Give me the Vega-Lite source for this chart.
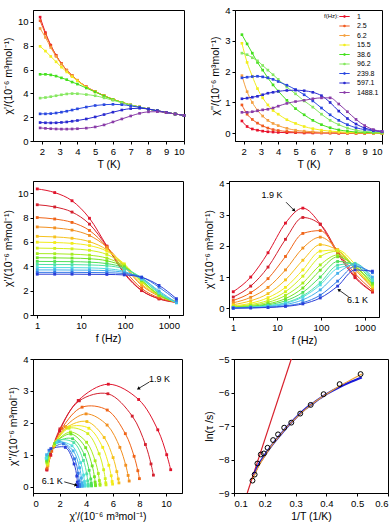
{
"$schema": "https://vega.github.io/schema/vega-lite/v6.json",
"background": "white",
"padding": {"left": 2, "top": 4, "right": 2, "bottom": 2},
"config": {
 "font": "Liberation Sans",
 "view": {"stroke": "black", "strokeWidth": 1},
 "axis": {"grid": false, "labelOverlap": false, "domainColor": "black", "tickColor": "black", "labelColor": "black", "titleColor": "black", "labelFontSize": 9.5, "titleFontSize": 10.5, "titleFontWeight": "normal", "tickSize": 3, "labelPadding": 2, "titlePadding": 4, "labelFont": "Liberation Sans", "titleFont": "Liberation Sans"}
},
"datasets": {
 "acT": [
{"f":"1","T":1.9,"c1":10.4,"c2":0.4},{"f":"1","T":2.2,"c1":9.1,"c2":0.22},{"f":"1","T":2.5,"c1":8.05,"c2":0.14},{"f":"1","T":2.8,"c1":7.2,"c2":0.1},{"f":"1","T":3.1,"c1":6.5,"c2":0.07},{"f":"1","T":3.4,"c1":5.95,"c2":0.05},{"f":"1","T":3.7,"c1":5.5,"c2":0.04},{"f":"1","T":4,"c1":5.1,"c2":0.03},{"f":"1","T":4.5,"c1":4.55,"c2":0.02},{"f":"1","T":5,"c1":4.15,"c2":0.02},{"f":"1","T":5.5,"c1":3.8,"c2":0.01},{"f":"1","T":6,"c1":3.5,"c2":0.01},{"f":"1","T":6.5,"c1":3.25,"c2":0.01},{"f":"1","T":7,"c1":3.02,"c2":0.01},{"f":"1","T":7.5,"c1":2.85,"c2":0},{"f":"1","T":8,"c1":2.68,"c2":0},{"f":"1","T":8.5,"c1":2.53,"c2":0},{"f":"1","T":9,"c1":2.4,"c2":0},{"f":"1","T":9.5,"c1":2.27,"c2":0},{"f":"1","T":10,"c1":2.15,"c2":0},
{"f":"2.5","T":1.9,"c1":10.1,"c2":0.92},{"f":"2.5","T":2.2,"c1":9.0,"c2":0.62},{"f":"2.5","T":2.5,"c1":8.0,"c2":0.45},{"f":"2.5","T":2.8,"c1":7.18,"c2":0.33},{"f":"2.5","T":3.1,"c1":6.5,"c2":0.24},{"f":"2.5","T":3.4,"c1":5.95,"c2":0.17},{"f":"2.5","T":3.7,"c1":5.5,"c2":0.12},{"f":"2.5","T":4,"c1":5.1,"c2":0.09},{"f":"2.5","T":4.5,"c1":4.55,"c2":0.06},{"f":"2.5","T":5,"c1":4.15,"c2":0.04},{"f":"2.5","T":5.5,"c1":3.8,"c2":0.03},{"f":"2.5","T":6,"c1":3.5,"c2":0.02},{"f":"2.5","T":6.5,"c1":3.25,"c2":0.02},{"f":"2.5","T":7,"c1":3.02,"c2":0.01},{"f":"2.5","T":7.5,"c1":2.85,"c2":0.01},{"f":"2.5","T":8,"c1":2.68,"c2":0.01},{"f":"2.5","T":8.5,"c1":2.53,"c2":0},{"f":"2.5","T":9,"c1":2.4,"c2":0},{"f":"2.5","T":9.5,"c1":2.27,"c2":0},{"f":"2.5","T":10,"c1":2.15,"c2":0},
{"f":"6.2","T":1.9,"c1":9.45,"c2":1.87},{"f":"6.2","T":2.2,"c1":8.7,"c2":1.35},{"f":"6.2","T":2.5,"c1":7.85,"c2":1.0},{"f":"6.2","T":2.8,"c1":7.1,"c2":0.75},{"f":"6.2","T":3.1,"c1":6.45,"c2":0.56},{"f":"6.2","T":3.4,"c1":5.92,"c2":0.42},{"f":"6.2","T":3.7,"c1":5.48,"c2":0.32},{"f":"6.2","T":4,"c1":5.08,"c2":0.25},{"f":"6.2","T":4.5,"c1":4.54,"c2":0.16},{"f":"6.2","T":5,"c1":4.14,"c2":0.1},{"f":"6.2","T":5.5,"c1":3.8,"c2":0.07},{"f":"6.2","T":6,"c1":3.5,"c2":0.05},{"f":"6.2","T":6.5,"c1":3.25,"c2":0.03},{"f":"6.2","T":7,"c1":3.02,"c2":0.02},{"f":"6.2","T":7.5,"c1":2.85,"c2":0.02},{"f":"6.2","T":8,"c1":2.68,"c2":0.01},{"f":"6.2","T":8.5,"c1":2.53,"c2":0.01},{"f":"6.2","T":9,"c1":2.4,"c2":0.01},{"f":"6.2","T":9.5,"c1":2.27,"c2":0},{"f":"6.2","T":10,"c1":2.15,"c2":0},
{"f":"15.5","T":1.9,"c1":7.95,"c2":2.92},{"f":"15.5","T":2.2,"c1":7.55,"c2":2.3},{"f":"15.5","T":2.5,"c1":7.1,"c2":1.85},{"f":"15.5","T":2.8,"c1":6.65,"c2":1.45},{"f":"15.5","T":3.1,"c1":6.2,"c2":1.15},{"f":"15.5","T":3.4,"c1":5.8,"c2":0.92},{"f":"15.5","T":3.7,"c1":5.4,"c2":0.74},{"f":"15.5","T":4,"c1":5.05,"c2":0.62},{"f":"15.5","T":4.5,"c1":4.5,"c2":0.44},{"f":"15.5","T":5,"c1":4.12,"c2":0.32},{"f":"15.5","T":5.5,"c1":3.78,"c2":0.22},{"f":"15.5","T":6,"c1":3.49,"c2":0.15},{"f":"15.5","T":6.5,"c1":3.24,"c2":0.1},{"f":"15.5","T":7,"c1":3.02,"c2":0.07},{"f":"15.5","T":7.5,"c1":2.85,"c2":0.05},{"f":"15.5","T":8,"c1":2.68,"c2":0.03},{"f":"15.5","T":8.5,"c1":2.53,"c2":0.02},{"f":"15.5","T":9,"c1":2.4,"c2":0.02},{"f":"15.5","T":9.5,"c1":2.27,"c2":0.01},{"f":"15.5","T":10,"c1":2.15,"c2":0.01},
{"f":"38.6","T":1.9,"c1":5.6,"c2":3.2},{"f":"38.6","T":2.2,"c1":5.6,"c2":2.9},{"f":"38.6","T":2.5,"c1":5.55,"c2":2.6},{"f":"38.6","T":2.8,"c1":5.45,"c2":2.3},{"f":"38.6","T":3.1,"c1":5.3,"c2":2.05},{"f":"38.6","T":3.4,"c1":5.15,"c2":1.8},{"f":"38.6","T":3.7,"c1":4.95,"c2":1.57},{"f":"38.6","T":4,"c1":4.78,"c2":1.37},{"f":"38.6","T":4.5,"c1":4.45,"c2":1.07},{"f":"38.6","T":5,"c1":4.12,"c2":0.8},{"f":"38.6","T":5.5,"c1":3.78,"c2":0.6},{"f":"38.6","T":6,"c1":3.48,"c2":0.42},{"f":"38.6","T":6.5,"c1":3.24,"c2":0.28},{"f":"38.6","T":7,"c1":3.01,"c2":0.18},{"f":"38.6","T":7.5,"c1":2.84,"c2":0.11},{"f":"38.6","T":8,"c1":2.68,"c2":0.07},{"f":"38.6","T":8.5,"c1":2.53,"c2":0.04},{"f":"38.6","T":9,"c1":2.4,"c2":0.03},{"f":"38.6","T":9.5,"c1":2.27,"c2":0.02},{"f":"38.6","T":10,"c1":2.15,"c2":0.01},
{"f":"96.2","T":1.9,"c1":3.6,"c2":2.6},{"f":"96.2","T":2.2,"c1":3.65,"c2":2.55},{"f":"96.2","T":2.5,"c1":3.72,"c2":2.45},{"f":"96.2","T":2.8,"c1":3.8,"c2":2.35},{"f":"96.2","T":3.1,"c1":3.88,"c2":2.2},{"f":"96.2","T":3.4,"c1":3.95,"c2":2.05},{"f":"96.2","T":3.7,"c1":3.98,"c2":1.9},{"f":"96.2","T":4,"c1":3.97,"c2":1.75},{"f":"96.2","T":4.5,"c1":3.9,"c2":1.5},{"f":"96.2","T":5,"c1":3.8,"c2":1.28},{"f":"96.2","T":5.5,"c1":3.62,"c2":1.05},{"f":"96.2","T":6,"c1":3.42,"c2":0.85},{"f":"96.2","T":6.5,"c1":3.22,"c2":0.62},{"f":"96.2","T":7,"c1":3.02,"c2":0.42},{"f":"96.2","T":7.5,"c1":2.85,"c2":0.28},{"f":"96.2","T":8,"c1":2.68,"c2":0.17},{"f":"96.2","T":8.5,"c1":2.53,"c2":0.1},{"f":"96.2","T":9,"c1":2.4,"c2":0.06},{"f":"96.2","T":9.5,"c1":2.27,"c2":0.04},{"f":"96.2","T":10,"c1":2.15,"c2":0.03},
{"f":"239.8","T":1.9,"c1":2.28,"c2":1.8},{"f":"239.8","T":2.2,"c1":2.28,"c2":1.82},{"f":"239.8","T":2.5,"c1":2.3,"c2":1.84},{"f":"239.8","T":2.8,"c1":2.35,"c2":1.85},{"f":"239.8","T":3.1,"c1":2.42,"c2":1.83},{"f":"239.8","T":3.4,"c1":2.5,"c2":1.8},{"f":"239.8","T":3.7,"c1":2.6,"c2":1.75},{"f":"239.8","T":4,"c1":2.7,"c2":1.68},{"f":"239.8","T":4.5,"c1":2.85,"c2":1.56},{"f":"239.8","T":5,"c1":2.98,"c2":1.42},{"f":"239.8","T":5.5,"c1":3.05,"c2":1.25},{"f":"239.8","T":6,"c1":3.08,"c2":1.05},{"f":"239.8","T":6.5,"c1":3.05,"c2":0.82},{"f":"239.8","T":7,"c1":2.95,"c2":0.6},{"f":"239.8","T":7.5,"c1":2.83,"c2":0.42},{"f":"239.8","T":8,"c1":2.68,"c2":0.28},{"f":"239.8","T":8.5,"c1":2.53,"c2":0.18},{"f":"239.8","T":9,"c1":2.4,"c2":0.12},{"f":"239.8","T":9.5,"c1":2.27,"c2":0.08},{"f":"239.8","T":10,"c1":2.15,"c2":0.05},
{"f":"597.1","T":1.9,"c1":1.55,"c2":1.12},{"f":"597.1","T":2.2,"c1":1.53,"c2":1.14},{"f":"597.1","T":2.5,"c1":1.52,"c2":1.17},{"f":"597.1","T":2.8,"c1":1.53,"c2":1.2},{"f":"597.1","T":3.1,"c1":1.56,"c2":1.25},{"f":"597.1","T":3.4,"c1":1.6,"c2":1.3},{"f":"597.1","T":3.7,"c1":1.66,"c2":1.33},{"f":"597.1","T":4,"c1":1.72,"c2":1.36},{"f":"597.1","T":4.5,"c1":1.85,"c2":1.39},{"f":"597.1","T":5,"c1":2.02,"c2":1.4},{"f":"597.1","T":5.5,"c1":2.22,"c2":1.38},{"f":"597.1","T":6,"c1":2.42,"c2":1.33},{"f":"597.1","T":6.5,"c1":2.6,"c2":1.22},{"f":"597.1","T":7,"c1":2.72,"c2":1.0},{"f":"597.1","T":7.5,"c1":2.75,"c2":0.72},{"f":"597.1","T":8,"c1":2.68,"c2":0.48},{"f":"597.1","T":8.5,"c1":2.55,"c2":0.3},{"f":"597.1","T":9,"c1":2.4,"c2":0.17},{"f":"597.1","T":9.5,"c1":2.27,"c2":0.1},{"f":"597.1","T":10,"c1":2.15,"c2":0.06},
{"f":"1488.1","T":1.9,"c1":1.1,"c2":0.68},{"f":"1488.1","T":2.2,"c1":1.06,"c2":0.68},{"f":"1488.1","T":2.5,"c1":1.03,"c2":0.7},{"f":"1488.1","T":2.8,"c1":1.01,"c2":0.73},{"f":"1488.1","T":3.1,"c1":1.0,"c2":0.76},{"f":"1488.1","T":3.4,"c1":1.0,"c2":0.78},{"f":"1488.1","T":3.7,"c1":1.01,"c2":0.82},{"f":"1488.1","T":4,"c1":1.03,"c2":0.88},{"f":"1488.1","T":4.5,"c1":1.08,"c2":0.97},{"f":"1488.1","T":5,"c1":1.18,"c2":1.03},{"f":"1488.1","T":5.5,"c1":1.35,"c2":1.07},{"f":"1488.1","T":6,"c1":1.6,"c2":1.12},{"f":"1488.1","T":6.5,"c1":1.85,"c2":1.15},{"f":"1488.1","T":7,"c1":2.1,"c2":1.15},{"f":"1488.1","T":7.5,"c1":2.32,"c2":0.95},{"f":"1488.1","T":8,"c1":2.45,"c2":0.7},{"f":"1488.1","T":8.5,"c1":2.46,"c2":0.45},{"f":"1488.1","T":9,"c1":2.38,"c2":0.25},{"f":"1488.1","T":9.5,"c1":2.27,"c2":0.12},{"f":"1488.1","T":10,"c1":2.15,"c2":0.06}
 ],
 "acf": [
{"T":1.9,"f":1,"c1":10.35,"c2":0.53},{"T":1.9,"f":2.5,"c1":10.05,"c2":1.0},{"T":1.9,"f":6.2,"c1":9.38,"c2":1.78},{"T":1.9,"f":15.5,"c1":7.94,"c2":2.73},{"T":1.9,"f":38.6,"c1":5.66,"c2":3.21},{"T":1.9,"f":96.2,"c1":3.4,"c2":2.7},{"T":1.9,"f":239.8,"c1":2.0,"c2":1.75},{"T":1.9,"f":597.1,"c1":1.34,"c2":0.98},{"T":1.9,"f":1488.1,"c1":1.05,"c2":0.52},
{"T":2.2,"f":1,"c1":9.05,"c2":0.36},{"T":2.2,"f":2.5,"c1":8.87,"c2":0.71},{"T":2.2,"f":6.2,"c1":8.45,"c2":1.32},{"T":2.2,"f":15.5,"c1":7.46,"c2":2.21},{"T":2.2,"f":38.6,"c1":5.63,"c2":2.91},{"T":2.2,"f":96.2,"c1":3.48,"c2":2.69},{"T":2.2,"f":239.8,"c1":2.02,"c2":1.81},{"T":2.2,"f":597.1,"c1":1.32,"c2":1.02},{"T":2.2,"f":1488.1,"c1":1.03,"c2":0.53},
{"T":2.5,"f":1,"c1":8.0,"c2":0.25},{"T":2.5,"f":2.5,"c1":7.88,"c2":0.5},{"T":2.5,"f":6.2,"c1":7.6,"c2":0.95},{"T":2.5,"f":15.5,"c1":6.94,"c2":1.66},{"T":2.5,"f":38.6,"c1":5.58,"c2":2.4},{"T":2.5,"f":96.2,"c1":3.69,"c2":2.49},{"T":2.5,"f":239.8,"c1":2.18,"c2":1.83},{"T":2.5,"f":597.1,"c1":1.41,"c2":1.11},{"T":2.5,"f":1488.1,"c1":1.06,"c2":0.58},
{"T":2.8,"f":1,"c1":7.23,"c2":0.175},{"T":2.8,"f":2.5,"c1":7.15,"c2":0.35},{"T":2.8,"f":6.2,"c1":6.97,"c2":0.67},{"T":2.8,"f":15.5,"c1":6.53,"c2":1.23},{"T":2.8,"f":38.6,"c1":5.57,"c2":1.93},{"T":2.8,"f":96.2,"c1":3.99,"c2":2.28},{"T":2.8,"f":239.8,"c1":2.43,"c2":1.88},{"T":2.8,"f":597.1,"c1":1.55,"c2":1.24},{"T":2.8,"f":1488.1,"c1":1.11,"c2":0.65},
{"T":3.1,"f":1,"c1":6.46,"c2":0.116},{"T":3.1,"f":2.5,"c1":6.41,"c2":0.24},{"T":3.1,"f":6.2,"c1":6.3,"c2":0.47},{"T":3.1,"f":15.5,"c1":6.02,"c2":0.91},{"T":3.1,"f":38.6,"c1":5.35,"c2":1.54},{"T":3.1,"f":96.2,"c1":4.05,"c2":2.04},{"T":3.1,"f":239.8,"c1":2.53,"c2":1.85},{"T":3.1,"f":597.1,"c1":1.6,"c2":1.29},{"T":3.1,"f":1488.1,"c1":1.11,"c2":0.67},
{"T":3.4,"f":1,"c1":5.98,"c2":0.078},{"T":3.4,"f":2.5,"c1":5.95,"c2":0.16},{"T":3.4,"f":6.2,"c1":5.88,"c2":0.34},{"T":3.4,"f":15.5,"c1":5.7,"c2":0.67},{"T":3.4,"f":38.6,"c1":5.24,"c2":1.23},{"T":3.4,"f":96.2,"c1":4.2,"c2":1.83},{"T":3.4,"f":239.8,"c1":2.72,"c2":1.87},{"T":3.4,"f":597.1,"c1":1.71,"c2":1.41},{"T":3.4,"f":1488.1,"c1":1.13,"c2":0.73},
{"T":3.7,"f":1,"c1":5.49,"c2":0.055},{"T":3.7,"f":2.5,"c1":5.47,"c2":0.12},{"T":3.7,"f":6.2,"c1":5.43,"c2":0.25},{"T":3.7,"f":15.5,"c1":5.31,"c2":0.53},{"T":3.7,"f":38.6,"c1":4.97,"c2":1.03},{"T":3.7,"f":96.2,"c1":4.12,"c2":1.66},{"T":3.7,"f":239.8,"c1":2.7,"c2":1.83},{"T":3.7,"f":597.1,"c1":1.6,"c2":1.3},{"T":3.7,"f":1488.1,"c1":1.06,"c2":0.71},
{"T":4.0,"f":1,"c1":5.04,"c2":0.042},{"T":4.0,"f":2.5,"c1":5.03,"c2":0.09},{"T":4.0,"f":6.2,"c1":4.99,"c2":0.19},{"T":4.0,"f":15.5,"c1":4.91,"c2":0.41},{"T":4.0,"f":38.6,"c1":4.67,"c2":0.81},{"T":4.0,"f":96.2,"c1":4.03,"c2":1.39},{"T":4.0,"f":239.8,"c1":2.81,"c2":1.71},{"T":4.0,"f":597.1,"c1":1.63,"c2":1.34},{"T":4.0,"f":1488.1,"c1":1.04,"c2":0.76},
{"T":4.3,"f":1,"c1":4.7,"c2":0.029},{"T":4.3,"f":2.5,"c1":4.69,"c2":0.064},{"T":4.3,"f":6.2,"c1":4.67,"c2":0.14},{"T":4.3,"f":15.5,"c1":4.62,"c2":0.31},{"T":4.3,"f":38.6,"c1":4.45,"c2":0.65},{"T":4.3,"f":96.2,"c1":3.96,"c2":1.22},{"T":4.3,"f":239.8,"c1":2.85,"c2":1.65},{"T":4.3,"f":597.1,"c1":1.64,"c2":1.35},{"T":4.3,"f":1488.1,"c1":1.03,"c2":0.8},
{"T":4.6,"f":1,"c1":4.4,"c2":0.022},{"T":4.6,"f":2.5,"c1":4.39,"c2":0.05},{"T":4.6,"f":6.2,"c1":4.38,"c2":0.11},{"T":4.6,"f":15.5,"c1":4.34,"c2":0.24},{"T":4.6,"f":38.6,"c1":4.22,"c2":0.51},{"T":4.6,"f":96.2,"c1":3.87,"c2":1.0},{"T":4.6,"f":239.8,"c1":2.98,"c2":1.5},{"T":4.6,"f":597.1,"c1":1.77,"c2":1.39},{"T":4.6,"f":1488.1,"c1":1.04,"c2":0.84},
{"T":4.9,"f":1,"c1":4.15,"c2":0.016},{"T":4.9,"f":2.5,"c1":4.14,"c2":0.036},{"T":4.9,"f":6.2,"c1":4.14,"c2":0.08},{"T":4.9,"f":15.5,"c1":4.11,"c2":0.18},{"T":4.9,"f":38.6,"c1":4.04,"c2":0.4},{"T":4.9,"f":96.2,"c1":3.79,"c2":0.82},{"T":4.9,"f":239.8,"c1":3.07,"c2":1.38},{"T":4.9,"f":597.1,"c1":1.87,"c2":1.44},{"T":4.9,"f":1488.1,"c1":1.03,"c2":0.92},
{"T":5.2,"f":1,"c1":3.9,"c2":0.014},{"T":5.2,"f":2.5,"c1":3.89,"c2":0.032},{"T":5.2,"f":6.2,"c1":3.89,"c2":0.072},{"T":5.2,"f":15.5,"c1":3.87,"c2":0.16},{"T":5.2,"f":38.6,"c1":3.8,"c2":0.36},{"T":5.2,"f":96.2,"c1":3.58,"c2":0.75},{"T":5.2,"f":239.8,"c1":2.93,"c2":1.28},{"T":5.2,"f":597.1,"c1":1.81,"c2":1.38},{"T":5.2,"f":1488.1,"c1":0.99,"c2":0.89},
{"T":5.5,"f":1,"c1":3.7,"c2":0.01},{"T":5.5,"f":2.5,"c1":3.7,"c2":0.023},{"T":5.5,"f":6.2,"c1":3.69,"c2":0.052},{"T":5.5,"f":15.5,"c1":3.68,"c2":0.12},{"T":5.5,"f":38.6,"c1":3.64,"c2":0.27},{"T":5.5,"f":96.2,"c1":3.5,"c2":0.59},{"T":5.5,"f":239.8,"c1":3.02,"c2":1.12},{"T":5.5,"f":597.1,"c1":1.97,"c2":1.41},{"T":5.5,"f":1488.1,"c1":1.02,"c2":1.0},
{"T":5.8,"f":1,"c1":3.5,"c2":0.006},{"T":5.8,"f":2.5,"c1":3.5,"c2":0.014},{"T":5.8,"f":6.2,"c1":3.5,"c2":0.033},{"T":5.8,"f":15.5,"c1":3.49,"c2":0.078},{"T":5.8,"f":38.6,"c1":3.47,"c2":0.18},{"T":5.8,"f":96.2,"c1":3.4,"c2":0.42},{"T":5.8,"f":239.8,"c1":3.12,"c2":0.87},{"T":5.8,"f":597.1,"c1":2.28,"c2":1.34},{"T":5.8,"f":1488.1,"c1":1.2,"c2":1.14},
{"T":6.1,"f":1,"c1":3.35,"c2":0.004},{"T":6.1,"f":2.5,"c1":3.35,"c2":0.011},{"T":6.1,"f":6.2,"c1":3.35,"c2":0.025},{"T":6.1,"f":15.5,"c1":3.34,"c2":0.059},{"T":6.1,"f":38.6,"c1":3.33,"c2":0.14},{"T":6.1,"f":96.2,"c1":3.29,"c2":0.33},{"T":6.1,"f":239.8,"c1":3.09,"c2":0.71},{"T":6.1,"f":597.1,"c1":2.43,"c2":1.23},{"T":6.1,"f":1488.1,"c1":1.34,"c2":1.19}
 ],
 "tau": [
{"x":0.511,"y":-5.45},{"x":0.443,"y":-5.75},{"x":0.391,"y":-6.05},{"x":0.349,"y":-6.37},{"x":0.315,"y":-6.63},{"x":0.286,"y":-6.9},{"x":0.263,"y":-7.05},{"x":0.243,"y":-7.25},{"x":0.227,"y":-7.42},{"x":0.209,"y":-7.65},{"x":0.197,"y":-7.82},{"x":0.187,"y":-7.85},{"x":0.176,"y":-8.12},{"x":0.167,"y":-8.45},{"x":0.16,"y":-8.63}
 ],
 "fits": [
{"fit":"blue","x":0.165,"y":-8.45},{"fit":"blue","x":0.18,"y":-8.15},{"fit":"blue","x":0.2,"y":-7.87},{"fit":"blue","x":0.225,"y":-7.55},{"fit":"blue","x":0.25,"y":-7.27},{"fit":"blue","x":0.275,"y":-7.0},{"fit":"blue","x":0.3,"y":-6.76},{"fit":"blue","x":0.33,"y":-6.5},{"fit":"blue","x":0.36,"y":-6.3},{"fit":"blue","x":0.4,"y":-6.05},{"fit":"blue","x":0.44,"y":-5.85},{"fit":"blue","x":0.48,"y":-5.68},{"fit":"blue","x":0.515,"y":-5.55},
{"fit":"orange","x":0.16,"y":-8.6},{"fit":"orange","x":0.18,"y":-8.2},{"fit":"orange","x":0.2,"y":-7.9},{"fit":"orange","x":0.225,"y":-7.55},{"fit":"orange","x":0.25,"y":-7.27},{"fit":"orange","x":0.275,"y":-7.0},{"fit":"orange","x":0.3,"y":-6.77},{"fit":"orange","x":0.33,"y":-6.52},{"fit":"orange","x":0.36,"y":-6.3},{"fit":"orange","x":0.4,"y":-6.05},{"fit":"orange","x":0.44,"y":-5.82},{"fit":"orange","x":0.48,"y":-5.62},{"fit":"orange","x":0.515,"y":-5.45},
{"fit":"red","x":0.143,"y":-9.0},{"fit":"red","x":0.286,"y":-5.0}
 ]
},
"spacing": 6,
"resolve": {"scale": {"color": "independent"}, "legend": {"color": "independent"}},
"vconcat": [
 {
  "spacing": 23,
  "resolve": {"scale": {"color": "independent"}, "legend": {"color": "independent"}},
  "hconcat": [
   {
    "width": 151, "height": 131,
    "data": {"name": "acT"},
    "encoding": {
     "x": {"field": "T", "type": "quantitative", "scale": {"domain": [1.5, 10], "nice": false}, "axis": {"values": [2,3,4,5,6,7,8,9,10], "labelOverlap": false, "title": "T (K)"}},
     "y": {"field": "c1", "type": "quantitative", "scale": {"domain": [0, 11], "nice": false}, "axis": {"values": [0,2,4,6,8,10], "labelOverlap": false, "title": "χ'/(10⁻⁶ m³mol⁻¹)"}},
     "color": {"field": "f", "type": "nominal", "scale": {"domain": ["1","2.5","6.2","15.5","38.6","96.2","239.8","597.1","1488.1"], "range": ["#e8102a","#f05a20","#f4a040","#f2ee1e","#44e01e","#86e860","#2a48e0","#2a2ad0","#8a3ca8"]}, "legend": null}
    },
    "layer": [
     {"mark": {"type": "line", "strokeWidth": 1, "interpolate": "monotone"}},
     {"mark": {"type": "square", "size": 7, "opacity": 1}}
    ]
   },
   {
    "width": 147, "height": 131,
    "data": {"name": "acT"},
    "encoding": {
     "x": {"field": "T", "type": "quantitative", "scale": {"domain": [1.5, 10], "nice": false}, "axis": {"values": [2,3,4,5,6,7,8,9,10], "labelOverlap": false, "title": "T (K)"}},
     "y": {"field": "c2", "type": "quantitative", "scale": {"domain": [-0.25, 4], "nice": false}, "axis": {"values": [0,1,2,3,4], "labelOverlap": false, "title": "χ''/(10⁻⁶ m³mol⁻¹)"}},
     "color": {"field": "f", "type": "nominal", "scale": {"domain": ["1","2.5","6.2","15.5","38.6","96.2","239.8","597.1","1488.1"], "range": ["#e8102a","#f05a20","#f4a040","#f2ee1e","#44e01e","#86e860","#2a48e0","#2a2ad0","#8a3ca8"]},
       "legend": {"orient": "top-right", "offset": 3, "padding": 0, "title": "f(Hz):", "titleOrient": "left", "titleAnchor": "start", "titleFontSize": 6, "titleFontWeight": "normal", "titlePadding": 2, "labelFontSize": 7, "labelColor": "black", "symbolType": "M-2.6,0H2.6M-0.35,-0.35H0.35V0.35H-0.35Z", "symbolSize": 16, "symbolStrokeWidth": 1, "labelOffset": 9, "rowPadding": 1.5}}
    },
    "layer": [
     {"mark": {"type": "line", "strokeWidth": 1, "interpolate": "monotone"}},
     {"mark": {"type": "square", "size": 7, "opacity": 1}}
    ]
   }
  ]
 },
 {
  "spacing": 20,
  "hconcat": [
   {
    "width": 150, "height": 134,
    "data": {"name": "acf"},
    "encoding": {
     "x": {"field": "f", "type": "quantitative", "scale": {"type": "log", "domain": [0.8, 2100], "nice": false}, "axis": {"values": [1,10,100,1000], "format": "d", "labelOverlap": false, "title": "f (Hz)"}},
     "y": {"field": "c1", "type": "quantitative", "scale": {"domain": [0, 11], "nice": false}, "axis": {"values": [0,2,4,6,8,10], "labelOverlap": false, "title": "χ'/(10⁻⁶ m³mol⁻¹)"}},
     "color": {"field": "T", "type": "ordinal", "scale": {"domain": [1.9,2.2,2.5,2.8,3.1,3.4,3.7,4.0,4.3,4.6,4.9,5.2,5.5,5.8,6.1], "range": ["#e0142c","#d4202e","#f06418","#f29020","#f6c21c","#f2ec1a","#d2f01c","#a6ec1e","#74e424","#4ee05a","#4ee2a6","#50dce0","#44b0ec","#3478e6","#2a3ed8"]}, "legend": null}
    },
    "layer": [
     {"mark": {"type": "line", "strokeWidth": 1, "interpolate": "monotone"}},
     {"mark": {"type": "square", "size": 8, "opacity": 1}}
    ]
   },
   {
    "width": 150, "height": 136,
    "encoding": {
     "x": {"field": "f", "type": "quantitative", "scale": {"type": "log", "domain": [0.8, 2100], "nice": false}, "axis": {"values": [1,10,100,1000], "format": "d", "labelOverlap": false, "title": "f (Hz)"}},
     "y": {"field": "c2", "type": "quantitative", "scale": {"domain": [-0.28, 4.08], "nice": false}, "axis": {"values": [0,1,2,3,4], "labelOverlap": false, "title": "χ''/(10⁻⁶ m³mol⁻¹)"}}
    },
    "layer": [
     {
      "data": {"name": "acf"},
      "encoding": {
       "color": {"field": "T", "type": "ordinal", "scale": {"domain": [1.9,2.2,2.5,2.8,3.1,3.4,3.7,4.0,4.3,4.6,4.9,5.2,5.5,5.8,6.1], "range": ["#e0142c","#d4202e","#f06418","#f29020","#f6c21c","#f2ec1a","#d2f01c","#a6ec1e","#74e424","#4ee05a","#4ee2a6","#50dce0","#44b0ec","#3478e6","#2a3ed8"]}, "legend": null}
      },
      "layer": [
       {"mark": {"type": "line", "strokeWidth": 1, "interpolate": "monotone"}},
       {"mark": {"type": "square", "size": 8, "opacity": 1}}
      ]
     },
     {
      "data": {"values": [{"f": 7.6, "c2": 3.63, "label": "1.9 K"}, {"f": 680, "c2": 0.26, "label": "6.1 K"}]},
      "mark": {"type": "text", "fontSize": 9, "color": "black"},
      "encoding": {"text": {"field": "label"}}
     },
     {
      "data": {"values": [{"f": 16, "c2": 3.4, "f2": 24, "c22": 3.15}, {"f": 430, "c2": 0.36, "f2": 260, "c22": 0.58}]},
      "mark": {"type": "rule", "color": "black", "strokeWidth": 0.8},
      "encoding": {"x2": {"field": "f2"}, "y2": {"field": "c22"}}
     },
     {
      "data": {"values": [{"f": 24, "c2": 3.15}]},
      "mark": {"type": "point", "shape": "triangle", "filled": true, "color": "black", "size": 14, "angle": 135, "opacity": 1}
     },
     {
      "data": {"values": [{"f": 260, "c2": 0.58}]},
      "mark": {"type": "point", "shape": "triangle", "filled": true, "color": "black", "size": 14, "angle": 306, "opacity": 1}
     }
    ]
   }
  ]
 },
 {
  "spacing": 20,
  "hconcat": [
   {
    "width": 149, "height": 134,
    "encoding": {
     "x": {"field": "c1", "type": "quantitative", "scale": {"domain": [0, 11.2], "nice": false}, "axis": {"values": [0,2,4,6,8,10], "labelOverlap": false, "title": "χ'/(10⁻⁶ m³mol⁻¹)"}},
     "y": {"field": "c2", "type": "quantitative", "scale": {"domain": [-0.2, 4], "nice": false}, "axis": {"values": [0,1,2,3,4], "labelOverlap": false, "title": "χ''/(10⁻⁶ m³mol⁻¹)"}}
    },
    "layer": [
     {
      "data": {"name": "acf"},
      "encoding": {
       "color": {"field": "T", "type": "ordinal", "scale": {"domain": [1.9,2.2,2.5,2.8,3.1,3.4,3.7,4.0,4.3,4.6,4.9,5.2,5.5,5.8,6.1], "range": ["#e0142c","#d4202e","#f06418","#f29020","#f6c21c","#f2ec1a","#d2f01c","#a6ec1e","#74e424","#4ee05a","#4ee2a6","#50dce0","#44b0ec","#3478e6","#2a3ed8"]}, "legend": null}
      },
      "layer": [
       {"mark": {"type": "line", "strokeWidth": 1, "interpolate": "catmull-rom"}, "encoding": {"order": {"field": "f", "type": "quantitative"}}},
       {"mark": {"type": "square", "size": 8, "opacity": 1}}
      ]
     },
     {
      "data": {"values": [{"c1": 9.5, "c2": 3.37, "label": "1.9 K"}, {"c1": 1.45, "c2": 0.18, "label": "6.1 K"}]},
      "mark": {"type": "text", "fontSize": 9, "color": "black"},
      "encoding": {"text": {"field": "label"}}
     },
     {
      "data": {"values": [{"c1": 8.75, "c2": 3.28, "c1b": 7.95, "c2b": 3.08}, {"c1": 2.35, "c2": 0.15, "c1b": 3.2, "c2b": 0.05}]},
      "mark": {"type": "rule", "color": "black", "strokeWidth": 0.8},
      "encoding": {"x2": {"field": "c1b"}, "y2": {"field": "c2b"}}
     },
     {
      "data": {"values": [{"c1": 7.95, "c2": 3.08}]},
      "mark": {"type": "point", "shape": "triangle", "filled": true, "color": "black", "size": 14, "angle": 239, "opacity": 1}
     },
     {
      "data": {"values": [{"c1": 3.2, "c2": 0.05}]},
      "mark": {"type": "point", "shape": "triangle", "filled": true, "color": "black", "size": 14, "angle": 106, "opacity": 1}
     }
    ]
   },
   {
    "width": 154, "height": 134,
    "encoding": {
     "x": {"field": "x", "type": "quantitative", "scale": {"domain": [0.1, 0.6], "nice": false}, "axis": {"values": [0.1,0.2,0.3,0.4,0.5,0.6], "format": ".1f", "labelOverlap": false, "title": "1/T (1/K)"}},
     "y": {"field": "y", "type": "quantitative", "scale": {"domain": [-9, -5], "nice": false}, "axis": {"values": [-9,-8,-7,-6,-5], "labelOverlap": false, "title": "ln(τ /s)"}}
    },
    "layer": [
     {
      "data": {"name": "fits"},
      "transform": [{"filter": "datum.fit == 'red'"}],
      "mark": {"type": "line", "color": "#d8202c", "strokeWidth": 1.2, "clip": true}
     },
     {
      "data": {"name": "fits"},
      "transform": [{"filter": "datum.fit == 'blue'"}],
      "mark": {"type": "line", "color": "#1a1ad8", "strokeWidth": 2.2, "interpolate": "monotone"}
     },
     {
      "data": {"name": "fits"},
      "transform": [{"filter": "datum.fit == 'orange'"}],
      "mark": {"type": "line", "color": "#f0a030", "strokeWidth": 1.1, "interpolate": "monotone"}
     },
     {
      "data": {"name": "tau"},
      "mark": {"type": "point", "shape": "circle", "filled": false, "color": "black", "size": 24, "strokeWidth": 1, "opacity": 1}
     }
    ]
   }
  ]
 }
]
}
